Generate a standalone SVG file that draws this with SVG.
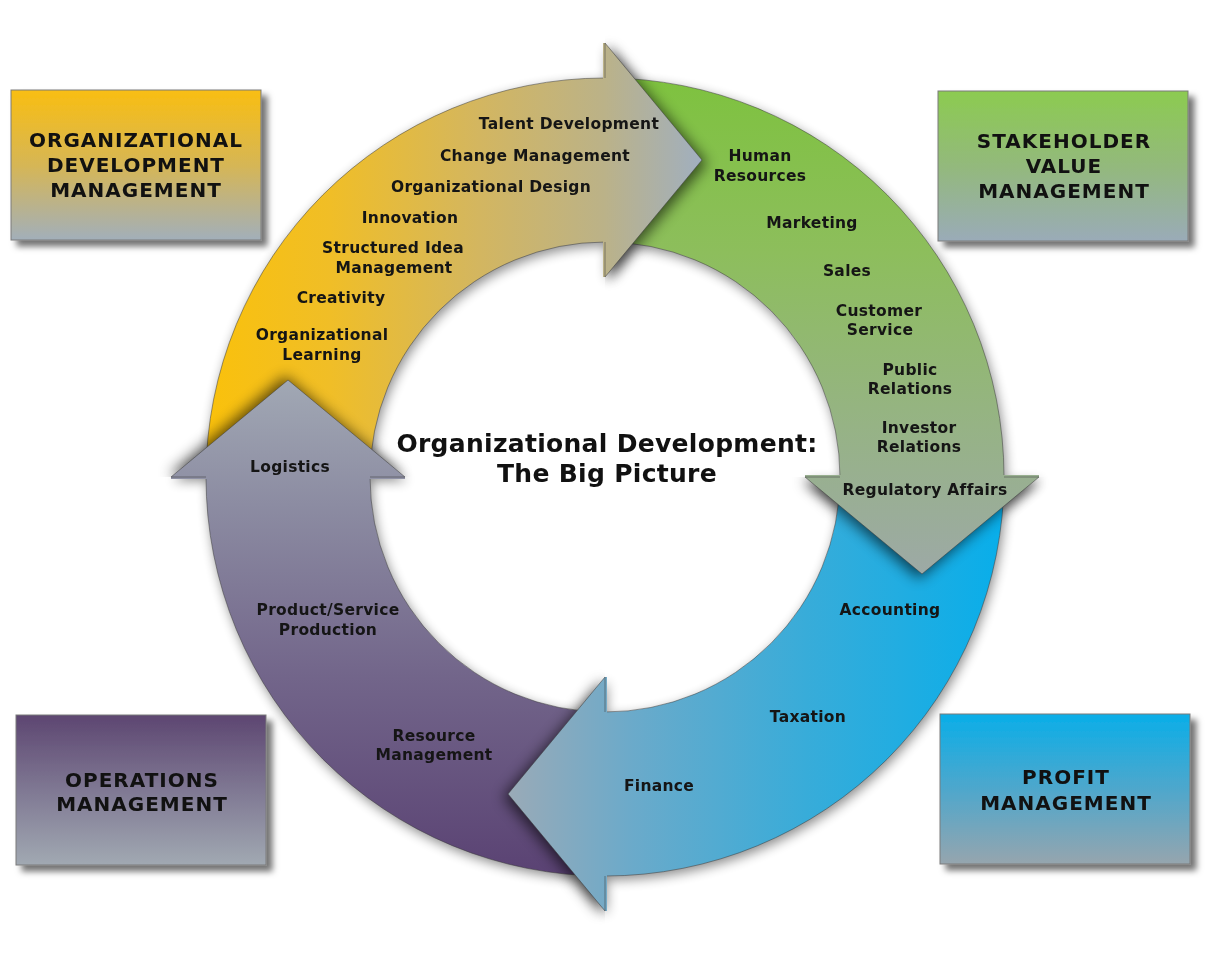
<svg xmlns="http://www.w3.org/2000/svg" width="1209" height="969" viewBox="0 0 1209 969">
<defs>
<filter id="blur" x="-20%" y="-20%" width="140%" height="140%">
<feGaussianBlur stdDeviation="6"/>
</filter>
<filter id="hblur" x="-30%" y="-30%" width="160%" height="160%">
<feGaussianBlur stdDeviation="7"/>
</filter>
<filter id="bsh" x="-10%" y="-10%" width="125%" height="125%">
<feDropShadow dx="6" dy="6" stdDeviation="3" flood-color="#000" flood-opacity="0.55"/>
</filter>
<clipPath id="cY"><rect x="605" y="0" width="200" height="477"/></clipPath>
<clipPath id="cG"><rect x="605" y="477" width="604" height="200"/></clipPath>
<clipPath id="cB"><rect x="405" y="477" width="200" height="492"/></clipPath>
<clipPath id="cP"><rect x="100" y="277" width="505" height="200"/></clipPath>
<linearGradient id="gY" gradientUnits="userSpaceOnUse" x1="206" y1="0" x2="703" y2="0">
<stop offset="0" stop-color="#FAC10B"/><stop offset="0.25" stop-color="#F0BE27"/><stop offset="0.55" stop-color="#D3B660"/><stop offset="0.8" stop-color="#BBB288"/><stop offset="1" stop-color="#A0AFC0"/>
</linearGradient>
<linearGradient id="gG" gradientUnits="userSpaceOnUse" x1="0" y1="78" x2="0" y2="575">
<stop offset="0" stop-color="#7EC23F"/><stop offset="0.35" stop-color="#8DBE5C"/><stop offset="0.7" stop-color="#96B385"/><stop offset="1" stop-color="#9DA9A6"/>
</linearGradient>
<linearGradient id="gB" gradientUnits="userSpaceOnUse" x1="1004" y1="0" x2="508" y2="0">
<stop offset="0" stop-color="#08AEEA"/><stop offset="0.4" stop-color="#38ACD9"/><stop offset="0.75" stop-color="#6BAACA"/><stop offset="1" stop-color="#9AAAB7"/>
</linearGradient>
<linearGradient id="gP" gradientUnits="userSpaceOnUse" x1="0" y1="876" x2="0" y2="380">
<stop offset="0" stop-color="#5A4273"/><stop offset="0.4" stop-color="#72658A"/><stop offset="0.75" stop-color="#8C8CA2"/><stop offset="1" stop-color="#A1A8B4"/>
</linearGradient>
<linearGradient id="b1" x1="0" y1="0" x2="0" y2="1"><stop offset="0" stop-color="#F9BE12"/><stop offset="0.5" stop-color="#D6B655"/><stop offset="1" stop-color="#A2AFBA"/></linearGradient>
<linearGradient id="b2" x1="0" y1="0" x2="0" y2="1"><stop offset="0" stop-color="#8CCB50"/><stop offset="0.5" stop-color="#93B97C"/><stop offset="1" stop-color="#9AABB8"/></linearGradient>
<linearGradient id="b3" x1="0" y1="0" x2="0" y2="1"><stop offset="0" stop-color="#5D4671"/><stop offset="0.5" stop-color="#7F7893"/><stop offset="1" stop-color="#A1A9B2"/></linearGradient>
<linearGradient id="b4" x1="0" y1="0" x2="0" y2="1"><stop offset="0" stop-color="#0AAEE8"/><stop offset="0.5" stop-color="#4EA7CC"/><stop offset="1" stop-color="#96A5AE"/></linearGradient>
<style>
.body{stroke:#3a3a3a;stroke-opacity:0.5;stroke-width:1}
.edge{fill:none;stroke:#3a3a3a;stroke-opacity:0.5;stroke-width:1}
.box{stroke:#7a7a7a;stroke-width:1;filter:url(#bsh)}
.bt{font-family:Verdana,"DejaVu Sans",sans-serif;font-weight:bold;font-size:20px;letter-spacing:1px;fill:#111;text-anchor:middle}
.lb{font-family:Verdana,"DejaVu Sans",sans-serif;font-weight:bold;font-size:15.5px;letter-spacing:0.3px;fill:#151515;text-anchor:middle}
.tt{font-family:Verdana,"DejaVu Sans",sans-serif;font-weight:bold;font-size:25px;letter-spacing:0.3px;fill:#111;text-anchor:middle}
</style>
</defs>
<rect width="1209" height="969" fill="#fff"/>

<g id="ring">
<g id="ring-shadow" filter="url(#blur)" fill="#000" opacity="0.45" transform="translate(2,4)">
<path d="M206,477 A399,399 0 0 1 1004,477 A399,399 0 0 1 206,477 Z M370,477 A235,235 0 0 0 840,477 A235,235 0 0 0 370,477 Z" fill-rule="evenodd"/>
<path d="M605,43 L702,160 L605,277 Z"/>
<path d="M1039,477 L922,574 L805,477 Z"/>
<path d="M605,911 L508,794 L605,677 Z"/>
<path d="M171,477 L288,380 L405,477 Z"/>
</g>
<path id="bodyY" class="body" fill="url(#gY)" d="M206,477 A399,399 0 0 1 605,78 L605,242 A235,235 0 0 0 370,477 Z"/>
<path id="bodyG" class="body" fill="url(#gG)" d="M605,78 A399,399 0 0 1 1004,477 L840,477 A235,235 0 0 0 605,242 Z"/>
<path id="bodyB" class="body" fill="url(#gB)" d="M1004,477 A399,399 0 0 1 605,876 L605,712 A235,235 0 0 0 840,477 Z"/>
<path id="bodyP" class="body" fill="url(#gP)" d="M605,876 A399,399 0 0 1 206,477 L370,477 A235,235 0 0 0 605,712 Z"/>
<g id="head-shadows" fill="#000" opacity="0.6">
<g clip-path="url(#cY)"><path filter="url(#hblur)" d="M605,43 L704,160 L605,277 Z" transform="translate(3,3)"/></g>
<g clip-path="url(#cG)"><path filter="url(#hblur)" d="M1039,477 L922,576 L805,477 Z" transform="translate(-3,3)"/></g>
<g clip-path="url(#cB)"><path filter="url(#hblur)" d="M605,911 L506,794 L605,677 Z" transform="translate(-3,3)"/></g>
<g clip-path="url(#cP)"><path filter="url(#hblur)" d="M171,477 L288,378 L405,477 Z" transform="translate(-3,-2)"/></g>
</g>
<path id="headY" fill="url(#gY)" d="M603,43 L605,43 L702,160 L605,277 L603,277 Z"/>
<path id="headG" fill="url(#gG)" d="M1039,475 L1039,477 L922,574 L805,477 L805,475 Z"/>
<path id="headB" fill="url(#gB)" d="M607,911 L605,911 L508,794 L605,677 L607,677 Z"/>
<path id="headP" fill="url(#gP)" d="M171,479 L171,477 L288,380 L405,477 L405,479 Z"/>
<path class="edge" d="M605,78 L605,43 L702,160 L605,277 L605,242"/>
<path class="edge" d="M1004,477 L1039,477 L922,574 L805,477 L840,477"/>
<path class="edge" d="M605,876 L605,911 L508,794 L605,677 L605,712"/>
<path class="edge" d="M206,477 L171,477 L288,380 L405,477 L370,477"/>
</g>

<g id="labels-yellow">
<text class="lb" x="569" y="129">Talent Development</text>
<text class="lb" x="535" y="161">Change Management</text>
<text class="lb" x="491" y="192">Organizational Design</text>
<text class="lb" x="410" y="223">Innovation</text>
<text class="lb" x="393" y="253">Structured Idea</text>
<text class="lb" x="394" y="273">Management</text>
<text class="lb" x="341" y="303">Creativity</text>
<text class="lb" x="322" y="340">Organizational</text>
<text class="lb" x="322" y="360">Learning</text>
</g>
<g id="labels-green">
<text class="lb" x="760" y="161">Human</text>
<text class="lb" x="760" y="181">Resources</text>
<text class="lb" x="812" y="228">Marketing</text>
<text class="lb" x="847" y="276">Sales</text>
<text class="lb" x="879" y="316">Customer</text>
<text class="lb" x="880" y="335">Service</text>
<text class="lb" x="910" y="375">Public</text>
<text class="lb" x="910" y="394">Relations</text>
<text class="lb" x="919" y="433">Investor</text>
<text class="lb" x="919" y="452">Relations</text>
<text class="lb" x="925" y="495">Regulatory Affairs</text>
</g>
<g id="labels-blue">
<text class="lb" x="890" y="615">Accounting</text>
<text class="lb" x="808" y="722">Taxation</text>
<text class="lb" x="659" y="791">Finance</text>
</g>
<g id="labels-purple">
<text class="lb" x="434" y="741">Resource</text>
<text class="lb" x="434" y="760">Management</text>
<text class="lb" x="328" y="615">Product/Service</text>
<text class="lb" x="328" y="635">Production</text>
<text class="lb" x="290" y="472">Logistics</text>
</g>

<g id="title">
<text class="tt" x="607" y="452">Organizational Development:</text>
<text class="tt" x="607" y="482">The Big Picture</text>
</g>

<g id="box-od">
<rect class="box" x="11" y="90" width="250" height="150" fill="url(#b1)"/>
<text class="bt" x="136" y="147">ORGANIZATIONAL</text>
<text class="bt" x="136" y="172">DEVELOPMENT</text>
<text class="bt" x="136" y="197">MANAGEMENT</text>
</g>
<g id="box-sv">
<rect class="box" x="938" y="91" width="250" height="150" fill="url(#b2)"/>
<text class="bt" x="1064" y="148">STAKEHOLDER</text>
<text class="bt" x="1064" y="173">VALUE</text>
<text class="bt" x="1064" y="198">MANAGEMENT</text>
</g>
<g id="box-op">
<rect class="box" x="16" y="715" width="250" height="150" fill="url(#b3)"/>
<text class="bt" x="142" y="787">OPERATIONS</text>
<text class="bt" x="142" y="811">MANAGEMENT</text>
</g>
<g id="box-pm">
<rect class="box" x="940" y="714" width="250" height="150" fill="url(#b4)"/>
<text class="bt" x="1066" y="784">PROFIT</text>
<text class="bt" x="1066" y="810">MANAGEMENT</text>
</g>
</svg>
